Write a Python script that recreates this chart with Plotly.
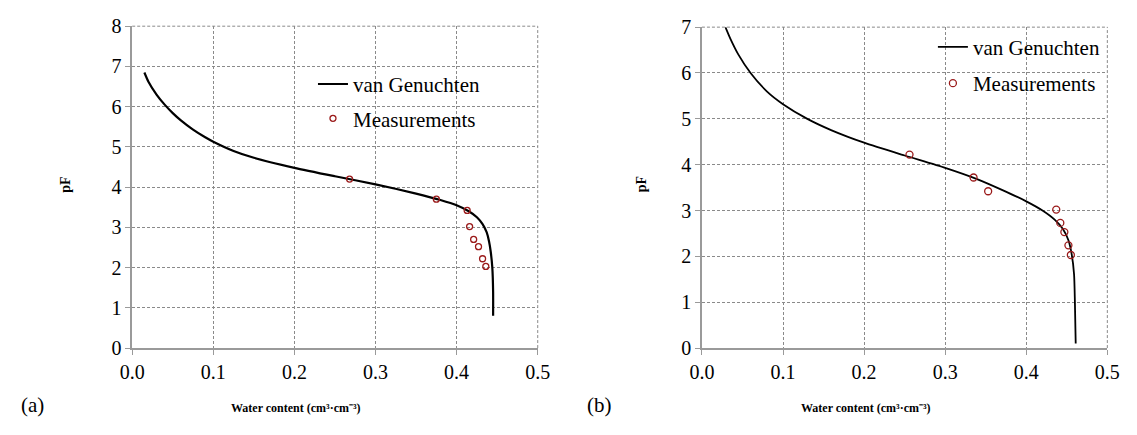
import plotly.graph_objects as go

# Panel (a) data
vg_a_theta = [0.015, 0.02, 0.03, 0.04, 0.05, 0.06, 0.075, 0.09, 0.1, 0.125, 0.15, 0.2, 0.25, 0.3, 0.35, 0.38, 0.40, 0.415, 0.425, 0.432, 0.437, 0.44, 0.442, 0.444, 0.445, 0.445]
vg_a_pf    = [6.85, 6.62, 6.3, 6.05, 5.84, 5.66, 5.43, 5.24, 5.13, 4.9, 4.73, 4.48, 4.27, 4.07, 3.84, 3.68, 3.55, 3.4, 3.25, 3.08, 2.88, 2.65, 2.4, 2.0, 1.4, 0.8]
meas_a_theta = [0.268, 0.375, 0.413, 0.416, 0.421, 0.427, 0.432, 0.436]
meas_a_pf    = [4.2, 3.7, 3.42, 3.02, 2.7, 2.52, 2.22, 2.03]

# Panel (b) data
vg_b_theta = [0.029, 0.035, 0.045, 0.06, 0.08, 0.1, 0.13, 0.16, 0.2, 0.25, 0.3, 0.34, 0.37, 0.4, 0.42, 0.435, 0.445, 0.452, 0.456, 0.459, 0.46, 0.461]
vg_b_pf    = [7.0, 6.75, 6.4, 6.0, 5.6, 5.32, 5.0, 4.75, 4.48, 4.2, 3.93, 3.68, 3.45, 3.2, 3.0, 2.8, 2.6, 2.35, 2.05, 1.6, 1.0, 0.1]
meas_b_theta = [0.256, 0.335, 0.353, 0.437, 0.442, 0.447, 0.452, 0.455]
meas_b_pf    = [4.22, 3.72, 3.42, 3.02, 2.73, 2.53, 2.24, 2.03]

x_ticks = [0.0, 0.1, 0.2, 0.3, 0.4, 0.5]
serif = "Liberation Serif, Times New Roman, serif"
grid_c = "#8a8a8a"
meas_c = "#9b1b1b"

fig = go.Figure()
fig.add_trace(go.Scatter(x=vg_a_theta, y=vg_a_pf, mode="lines", name="van Genuchten",
                         line=dict(color="black", width=2.2, shape="spline", smoothing=0.6),
                         xaxis="x", yaxis="y", legend="legend", legendgroup="a1"))
fig.add_trace(go.Scatter(x=meas_a_theta, y=meas_a_pf, mode="markers", name="Measurements",
                         marker=dict(symbol="circle-open", size=6, color=meas_c, line=dict(width=1.3)),
                         xaxis="x", yaxis="y", legend="legend", legendgroup="a2"))
fig.add_trace(go.Scatter(x=vg_b_theta, y=vg_b_pf, mode="lines", name="van Genuchten",
                         line=dict(color="black", width=1.8, shape="spline", smoothing=0.6),
                         xaxis="x2", yaxis="y2", legend="legend2", legendgroup="b1"))
fig.add_trace(go.Scatter(x=meas_b_theta, y=meas_b_pf, mode="markers", name="Measurements",
                         marker=dict(symbol="circle-open", size=7, color=meas_c, line=dict(width=1.3)),
                         xaxis="x2", yaxis="y2", legend="legend2", legendgroup="b2"))

ax_common = dict(showgrid=True, gridcolor=grid_c, griddash="3px,2px", gridwidth=1,
                 showline=True, linecolor="#9a9a9a", linewidth=1.5,
                 ticks="outside", ticklen=5, tickcolor="#9a9a9a",
                 tickfont=dict(family=serif, size=20, color="black"), zeroline=False)

fig.update_layout(
    width=1137, height=435, margin=dict(l=0, r=0, t=0, b=0),
    paper_bgcolor="white", plot_bgcolor="white",
    xaxis=dict(domain=[0.1073, 0.4723], range=[0, 0.5], tickvals=x_ticks, tickformat=".1f",
               anchor="y", **ax_common),
    yaxis=dict(domain=[0.1839, 0.9632], range=[0, 8], dtick=1, anchor="x", **ax_common),
    xaxis2=dict(domain=[0.6201, 0.985], range=[0, 0.5], tickvals=x_ticks, tickformat=".1f",
                anchor="y2", **ax_common),
    yaxis2=dict(domain=[0.1839, 0.9609], range=[0, 7], dtick=1, anchor="x2", **ax_common),
    legend=dict(x=0.270, y=0.872, xanchor="left", yanchor="top", bgcolor="rgba(0,0,0,0)",
                font=dict(family=serif, size=21, color="black"), tracegroupgap=4, itemwidth=30),
    legend2=dict(x=0.828, y=0.962, xanchor="left", yanchor="top", bgcolor="rgba(0,0,0,0)",
                 font=dict(family=serif, size=21, color="black"), tracegroupgap=6, itemwidth=30),
    showlegend=True,
)

# dashed border gridlines at the far ends (x=0.5 and top of y range)
for xr, yr in [("x", "y"), ("x2", "y2")]:
    fig.add_shape(type="line", xref=f"{xr} domain", yref=f"{yr} domain", x0=1, x1=1, y0=0, y1=1,
                  line=dict(color=grid_c, width=1, dash="3px,2px"))
    fig.add_shape(type="line", xref=f"{xr} domain", yref=f"{yr} domain", x0=0, x1=1, y0=1, y1=1,
                  line=dict(color=grid_c, width=1, dash="3px,2px"))

ann_font = dict(family=serif, size=12, color="black")
for xc, lab, xl, xp in [(0.255, "(a)", 0.018, 0.047), (0.768, "(b)", 0.528, 0.566)]:
    fig.add_annotation(x=xc, y=0.038, xref="paper", yref="paper", text="<b>Water content (cm³·cm⁻³)</b>",
                       showarrow=False, font=ann_font, xanchor="center", yanchor="middle")
    fig.add_annotation(x=xl, y=0.045, xref="paper", yref="paper", text=lab,
                       showarrow=False, font=dict(family=serif, size=21, color="black"),
                       xanchor="center", yanchor="middle")
    fig.add_annotation(x=xp, y=0.58, xref="paper", yref="paper", text="<b>pF</b>", textangle=-90,
                       showarrow=False, font=dict(family=serif, size=14, color="black"),
                       xanchor="center", yanchor="middle")

fig.write_html("out.html")
